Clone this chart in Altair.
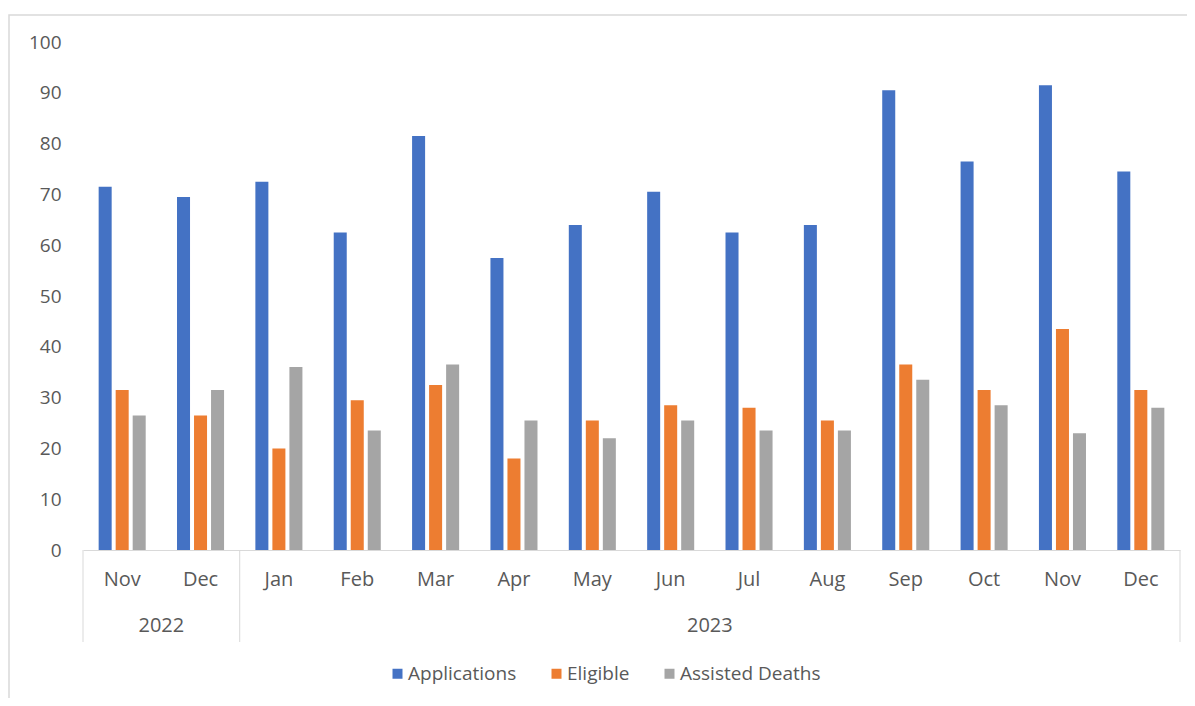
import altair as alt
import pandas as pd

months = ["Nov", "Dec", "Jan", "Feb", "Mar", "Apr", "May", "Jun", "Jul", "Aug", "Sep", "Oct", "Nov", "Dec"]
years = ["2022", "2022"] + ["2023"] * 12
applications = [71.5, 69.5, 72.5, 62.5, 81.5, 57.5, 64, 70.5, 62.5, 64, 90.5, 76.5, 91.5, 74.5]
eligible = [31.5, 26.5, 20, 29.5, 32.5, 18, 25.5, 28.5, 28, 25.5, 36.5, 31.5, 43.5, 31.5]
assisted_deaths = [26.5, 31.5, 36, 23.5, 36.5, 25.5, 22, 25.5, 23.5, 23.5, 33.5, 28.5, 23, 28]
series = ["Applications", "Eligible", "Assisted Deaths"]
colors = ["#4472C4", "#ED7D31", "#A5A5A5"]
y_ticks = list(range(0, 101, 10))

FONT = "Open Sans"
TXT = "#595959"
LINE = "#D9D9D9"

keys = [f"{m} {y}" for m, y in zip(months, years)]
rows = []
for i, k in enumerate(keys):
    for s, vals in zip(series, [applications, eligible, assisted_deaths]):
        rows.append({"key": k, "month": months[i], "year": years[i], "series": s, "value": vals[i]})
df = pd.DataFrame(rows)

# year groups
yr_rows = []
for y in dict.fromkeys(years):
    ks = [k for k, yy in zip(keys, years) if yy == y]
    yr_rows.append({"year": y, "first": ks[0], "mid": ks[len(ks) // 2]})
ydf = pd.DataFrame(yr_rows)
last_df = pd.DataFrame([{"last": keys[-1]}])

W, H = 1097, 508

xscale = alt.Scale(domain=keys, paddingInner=0, paddingOuter=0)
xaxis = alt.Axis(title=None, labelExpr="split(datum.label, ' ')[0]", ticks=False,
                 labelPadding=19, labelFontSize=20, labelColor=TXT, labelFont=FONT,
                 domainColor=LINE, domainWidth=1, labelAngle=0)

bars = alt.Chart(df).mark_bar().encode(
    x=alt.X("key:N", sort=keys, scale=xscale, axis=xaxis),
    xOffset=alt.XOffset("series:N", sort=series,
                        scale=alt.Scale(domain=series, paddingInner=0.235, paddingOuter=0.92)),
    y=alt.Y("value:Q", scale=alt.Scale(domain=[0, 100]),
            axis=alt.Axis(title=None, values=y_ticks, grid=False, domain=False, ticks=False,
                          labelPadding=22, labelFontSize=19, labelColor=TXT, labelFont=FONT)),
    color=alt.Color("series:N", sort=series, scale=alt.Scale(domain=series, range=colors),
                    legend=alt.Legend(title=None, orient="none", direction="horizontal",
                                      legendX=305, legendY=622, symbolType="square",
                                      symbolSize=100, symbolStrokeWidth=0, labelFontSize=19,
                                      labelColor=TXT, labelFont=FONT, columnPadding=30,
                                      labelOffset=1)),
)

sep_first = alt.Chart(ydf).mark_rule(color=LINE, strokeWidth=1).encode(
    x=alt.X("first:N", sort=keys, scale=xscale, bandPosition=0, axis=xaxis),
    y=alt.value(H), y2=alt.value(H + 92),
)
sep_last = alt.Chart(last_df).mark_rule(color=LINE, strokeWidth=1).encode(
    x=alt.X("last:N", sort=keys, scale=xscale, bandPosition=1, axis=xaxis),
    y=alt.value(H), y2=alt.value(H + 92),
)
year_text = alt.Chart(ydf).mark_text(font=FONT, fontSize=20, color=TXT, baseline="middle").encode(
    x=alt.X("mid:N", sort=keys, scale=xscale, bandPosition=0, axis=xaxis),
    y=alt.value(H + 76),
    text="year:N",
)
frame = alt.Chart(pd.DataFrame([{"a": 1}])).mark_rect(fill=None, stroke=LINE, strokeWidth=1.5).encode(
    x=alt.value(-74), x2=alt.value(W + 26), y=alt.value(-27), y2=alt.value(H + 151),
)

chart = alt.layer(frame, bars, sep_first, sep_last, year_text).properties(
    width=W, height=H,
    background="white",
    autosize=alt.AutoSizeParams(type="none"),
    padding={"left": 75, "top": 34, "right": 7, "bottom": 148},
).configure_view(stroke=None)

chart.save("out.html", embed_options={"renderer": "svg", "actions": False})
